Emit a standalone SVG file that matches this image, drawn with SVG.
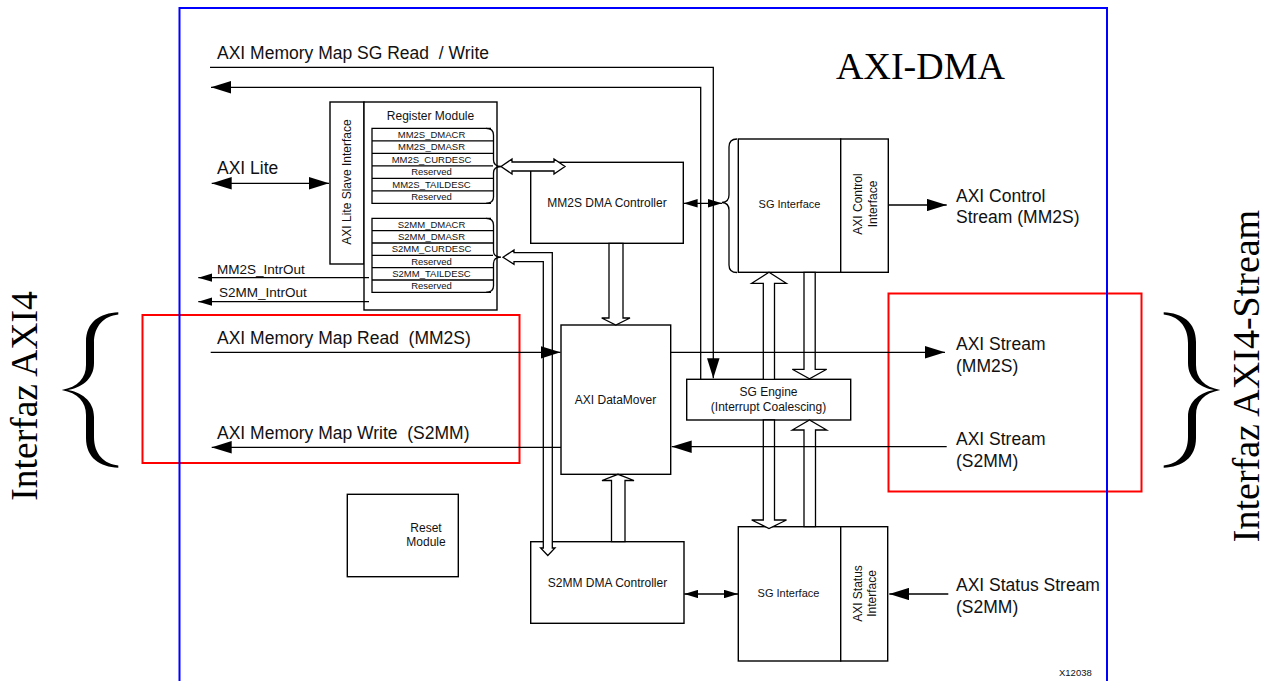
<svg xmlns="http://www.w3.org/2000/svg" width="1271" height="681" viewBox="0 0 1271 681">
<defs>
<style>
.box{fill:#fff;stroke:#000;stroke-width:1.4}
.ln{fill:none;stroke:#000;stroke-width:1.3}
.hol{fill:#fff;stroke:#000;stroke-width:1.3;stroke-linejoin:miter}
.t{font-family:"Liberation Sans",Arial,Helvetica,sans-serif;fill:#111}
.n12{font-size:12px;text-anchor:middle}
.n11{font-size:11px;text-anchor:middle}
.reg{font-family:"Liberation Sans",Arial,sans-serif;font-size:9.5px;text-anchor:middle;fill:#111}
.ext{font-size:17.5px}
.sm{font-size:13.5px}
.serif{font-family:"Liberation Serif","Times New Roman",serif;fill:#000}
.brace{fill:#000;stroke:none}
</style>
<marker id="ah" viewBox="0 0 20 12.5" markerWidth="20" markerHeight="12.5" refX="20" refY="6.25" orient="auto-start-reverse" markerUnits="userSpaceOnUse"><path d="M0,0 L20,6.25 L0,12.5 Z" fill="#000"/></marker>
<marker id="as" viewBox="0 0 14 8.5" markerWidth="14" markerHeight="8.5" refX="14" refY="4.25" orient="auto-start-reverse" markerUnits="userSpaceOnUse"><path d="M0,0 L14,4.25 L0,8.5 Z" fill="#000"/></marker>
</defs>
<rect width="1271" height="681" fill="#fff"/>

<g id="highlight-frames">
<rect x="142.5" y="315" width="377" height="148" fill="none" stroke="#ff0000" stroke-width="2"/>
<rect x="888.5" y="293.5" width="253" height="198" fill="none" stroke="#ff0000" stroke-width="2"/>
<rect x="179.5" y="8" width="927.5" height="690" fill="none" stroke="#0000ff" stroke-width="2"/>
</g>

<g id="node-axi-lite-slave">
<rect class="box" x="330" y="102" width="34" height="162"/>
<text class="t n12" transform="translate(351,182) rotate(-90)">AXI Lite Slave Interface</text>
</g>

<g id="node-register-module">
<rect class="box" x="364" y="102" width="133" height="208"/>
<text class="t n12" x="430.5" y="120">Register Module</text>
<path class="ln" d="M491,128.3 H372 V203.3 H491 M372,140.8 H493 M372,153.3 H493 M372,165.8 H493 M372,178.3 H493 M372,190.8 H493"/>
<path class="ln" d="M486,128.3 Q493.5,128.3 493.5,135 V160 Q493.5,166.3 501,166.5 Q493.5,166.7 493.5,173 V197 Q493.5,203.3 486,203.3"/>
<text class="reg" x="431.5" y="137.6">MM2S_DMACR</text>
<text class="reg" x="431.5" y="150.1">MM2S_DMASR</text>
<text class="reg" x="431.5" y="162.6">MM2S_CURDESC</text>
<text class="reg" x="431.5" y="175.1">Reserved</text>
<text class="reg" x="431.5" y="187.6">MM2S_TAILDESC</text>
<text class="reg" x="431.5" y="200.1">Reserved</text>
<path class="ln" d="M491,218.3 H372 V292.3 H491 M372,230.6 H493 M372,243 H493 M372,255.3 H493 M372,267.7 H493 M372,280 H493"/>
<path class="ln" d="M486,218.3 Q493.5,218.3 493.5,225 V251 Q493.5,257 501,257.2 Q493.5,257.4 493.5,263.5 V286 Q493.5,292.3 486,292.3"/>
<text class="reg" x="431.5" y="227.5">S2MM_DMACR</text>
<text class="reg" x="431.5" y="239.9">S2MM_DMASR</text>
<text class="reg" x="431.5" y="252.3">S2MM_CURDESC</text>
<text class="reg" x="431.5" y="264.6">Reserved</text>
<text class="reg" x="431.5" y="277">S2MM_TAILDESC</text>
<text class="reg" x="431.5" y="289.3">Reserved</text>
</g>

<g id="node-mm2s-dma-controller">
<rect class="box" x="530.7" y="162.3" width="152.6" height="81"/>
<text class="t n12" x="607" y="207">MM2S DMA Controller</text>
</g>

<g id="node-axi-datamover">
<rect class="box" x="561" y="325" width="109.7" height="149.3"/>
<text class="t n12" x="615.5" y="403.5">AXI DataMover</text>
</g>

<g id="node-s2mm-dma-controller">
<rect class="box" x="530.7" y="541.7" width="153.3" height="81.6"/>
<text class="t n12" x="607.5" y="587">S2MM DMA Controller</text>
</g>

<g id="node-sg-engine">
<rect class="box" x="686.7" y="379.3" width="164" height="40.7"/>
<text class="t n12" x="768.5" y="396">SG Engine</text>
<text class="t n12" x="768.5" y="410.5">(Interrupt Coalescing)</text>
</g>

<g id="node-sg-interface-top">
<rect class="box" x="738.3" y="139" width="102.4" height="133.3"/>
<rect class="box" x="840.7" y="139" width="47.6" height="133.3"/>
<path class="ln" d="M737,139 Q729,139 729,147 V195 Q729,202 722,202.5 Q729,203 729,210 V265 Q729,272.5 737,272.5" stroke-width="1.6"/>
<text class="t n11" x="789.5" y="207.5">SG Interface</text>
<text class="t n12" transform="translate(861.5,204) rotate(-90)">AXI Control</text>
<text class="t n12" transform="translate(876.5,204) rotate(-90)">Interface</text>
</g>

<g id="node-sg-interface-bottom">
<rect class="box" x="738.3" y="526.7" width="102.4" height="134.3"/>
<rect class="box" x="840.7" y="526.7" width="47" height="134.3"/>
<text class="t n11" x="788.5" y="597">SG Interface</text>
<text class="t n12" transform="translate(861.5,593.5) rotate(-90)">AXI Status</text>
<text class="t n12" transform="translate(876,593.5) rotate(-90)">Interface</text>
</g>

<g id="node-reset-module">
<rect class="box" x="347.3" y="494.3" width="111" height="82.4"/>
<text class="t n12" x="426" y="531.5">Reset</text>
<text class="t n12" x="426" y="545.5">Module</text>
</g>

<g id="connectors">
<path class="hol" d="M501,166.5 L512,159 L512,162 L554,162 L554,159 L565,166.5 L554,174 L554,171 L512,171 L512,174 Z"/>
<path class="hol" d="M503,257.2 L514,250 L514,252.7 L552.3,252.7 L552.3,548 L555,548 L547.8,555.5 L540.6,548 L543.3,548 L543.3,261.7 L514,261.7 L514,264.4 Z"/>
<path class="hol" d="M609,243.3 L623,243.3 L623,318 L630,318 L615.8,325 L601.7,318 L609,318 Z"/>
<path class="hol" d="M611.5,541.7 L625,541.7 L625,480.5 L634,480.5 L618,474.3 L602,480.5 L611.5,480.5 Z"/>
<path class="hol" d="M763.3,379.3 L763.3,283.3 L751.7,283.3 L769,272.3 L786.3,283.3 L774.5,283.3 L774.5,379.3 Z"/>
<path class="hol" d="M804,272.3 L815.2,272.3 L815.2,369.3 L826.7,369.3 L809.5,378.8 L792.3,369.3 L804,369.3 Z"/>
<path class="hol" d="M763.3,420 L774.5,420 L774.5,520 L786.5,520 L769,528.5 L751.7,520 L763.3,520 Z"/>
<path class="hol" d="M804,526.7 L804,430 L792.3,430 L809.5,420 L826.7,430 L815.5,430 L815.5,526.7 Z"/>

<path class="ln" d="M210,67.3 H713.3 V378.3" marker-end="url(#ah)"/>
<path class="ln" d="M700.7,379.3 V87.3 H211" marker-end="url(#ah)"/>
<path class="ln" d="M211.7,183.3 H329" marker-start="url(#ah)" marker-end="url(#ah)"/>
<path class="ln" d="M369,277.7 H198.3" marker-end="url(#as)"/>
<path class="ln" d="M369,301.7 H198.3" marker-end="url(#as)"/>
<path class="ln" d="M210.7,352.3 H560.5" marker-end="url(#ah)"/>
<path class="ln" d="M561,447.3 H211.7" marker-end="url(#ah)"/>
<path class="ln" d="M670.7,352.3 H945" marker-end="url(#ah)"/>
<path class="ln" d="M946.7,446.7 H671.7" marker-end="url(#ah)"/>
<path class="ln" d="M888.3,205 H946.7" marker-end="url(#ah)"/>
<path class="ln" d="M948.3,594 H889.3" marker-end="url(#ah)"/>
<path class="ln" d="M683.6,203.3 H722" marker-start="url(#as)" marker-end="url(#as)"/>
<path class="ln" d="M684.3,594 H738" marker-start="url(#as)" marker-end="url(#as)"/>
</g>

<g id="labels">
<text class="t ext" x="217" y="59" xml:space="preserve">AXI Memory Map SG Read  / Write</text>
<text class="t ext" x="217" y="174">AXI Lite</text>
<text class="t sm" x="217" y="273.5">MM2S_IntrOut</text>
<text class="t sm" x="219" y="297">S2MM_IntrOut</text>
<text class="t ext" x="217" y="344" xml:space="preserve">AXI Memory Map Read  (MM2S)</text>
<text class="t ext" x="217" y="439" xml:space="preserve">AXI Memory Map Write  (S2MM)</text>
<text class="t ext" x="956" y="201.5">AXI Control</text>
<text class="t ext" x="956" y="223">Stream (MM2S)</text>
<text class="t ext" x="956" y="350">AXI Stream</text>
<text class="t ext" x="956" y="372">(MM2S)</text>
<text class="t ext" x="956" y="445">AXI Stream</text>
<text class="t ext" x="956" y="467">(S2MM)</text>
<text class="t ext" x="956" y="591">AXI Status Stream</text>
<text class="t ext" x="956" y="613">(S2MM)</text>
<text class="serif" x="836" y="79" font-size="38">AXI-DMA</text>
<text class="t" x="1059" y="676" font-size="9.5">X12038</text>
<text class="serif" font-size="37.5" text-anchor="middle" transform="translate(37,396) rotate(-90)">Interfaz AXI4</text>
<text class="serif" font-size="38" text-anchor="middle" transform="translate(1258.5,376) rotate(-90)">Interfaz AXI4-Stream</text>
<path class="brace" d="M118.3,312.3 C100,313 86,322 86,342 L86,365 C86,378 78,387 61.7,390 C78,393 86,402 86,415 L86,438 C86,458 100,467 118.3,467.7 L118.3,465.5 C104,464 94,454 94,437 L94,417 C94,400 80,392 68,390 C80,388 94,380 94,363 L94,343 C94,326 104,316 118.3,314.5 Z"/>
<path class="brace" transform="translate(1282,0) scale(-1,1)" d="M118.3,312.3 C100,313 86,322 86,342 L86,365 C86,378 78,387 61.7,390 C78,393 86,402 86,415 L86,438 C86,458 100,467 118.3,467.7 L118.3,465.5 C104,464 94,454 94,437 L94,417 C94,400 80,392 68,390 C80,388 94,380 94,363 L94,343 C94,326 104,316 118.3,314.5 Z"/>
</g>
</svg>
